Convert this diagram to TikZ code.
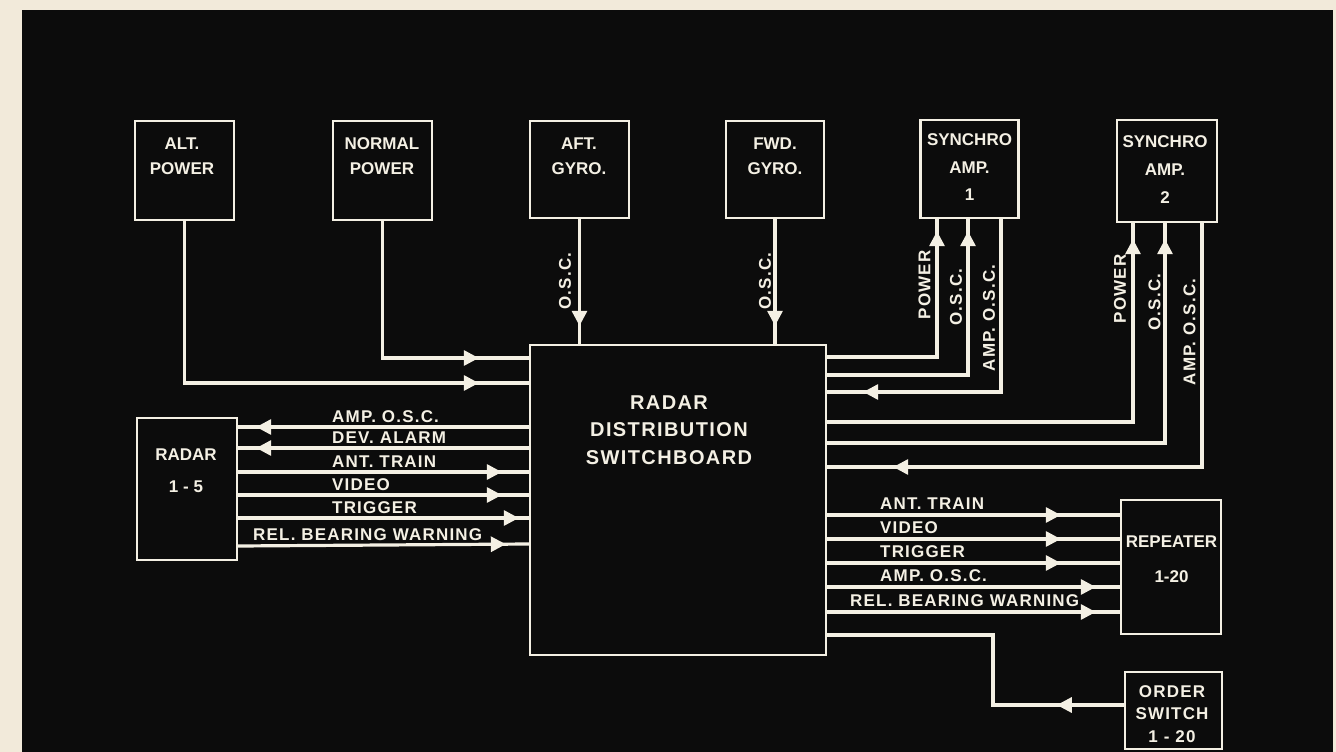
\documentclass[tikz,border=0pt]{standalone}
\usepackage{fontspec}
\setmainfont{Liberation Sans}
\newfontfamily\lblfont{Liberation Sans}[LetterSpace=7]
\usetikzlibrary{arrows.meta,decorations.markings}
\definecolor{paper}{HTML}{F2EADA}
\definecolor{board}{HTML}{0C0C0C}
\definecolor{chalk}{HTML}{F4F0E4}
\begin{document}
\begin{tikzpicture}[x=1pt,y=-1pt,
  blk/.style={draw=chalk,line width=2.4pt,inner sep=0pt},
  btxt/.style={text=chalk,font=\fontsize{17}{#1}\selectfont\bfseries,align=center,inner sep=0pt},
  btxt/.default=24.5,
  ltxt/.style={text=chalk,font=\fontsize{17}{20}\selectfont\lblfont\bfseries,inner sep=0pt},
  wirex/.style={chalk,line width=3.2pt,line join=miter},
  tipat/.style={postaction={decorate,decoration={markings,mark=at position #1 with {\arrow{Triangle[length=15pt,width=15pt]}}}}}]
\useasboundingbox (0,0) rectangle (1336,752);
\fill[paper] (0,0) rectangle (1336,752);
\fill[board] (22,10) rectangle (1333,752);

% boxes
\node[blk,minimum width=99pt,minimum height=99pt] (alt) at (184.5,170.5) {};
\node[btxt] (altT) at (182,156) {ALT.\\POWER};
\node[blk,minimum width=99pt,minimum height=99pt] (normal) at (382.5,170.5) {};
\node[btxt] (normalT) at (382,156) {NORMAL\\POWER};
\node[blk,minimum width=99pt,minimum height=97pt] (aft) at (579.5,169.5) {};
\node[btxt] (aftT) at (579,156) {AFT.\\GYRO.};
\node[blk,minimum width=98pt,minimum height=97pt] (fwd) at (775,169.5) {};
\node[btxt] (fwdT) at (775,156) {FWD.\\GYRO.};
\node[blk,minimum width=98pt,minimum height=98pt] (syn1) at (969.5,169) {};
\node[btxt=27.5] (syn1T) at (969.5,167.5) {SYNCHRO\\AMP.\\1};
\node[blk,minimum width=100pt,minimum height=102pt] (syn2) at (1167,171) {};
\node[btxt=28] (syn2T) at (1165,170) {SYNCHRO\\AMP.\\2};
\node[blk,minimum width=296pt,minimum height=310pt] (sw) at (678,500) {};
\node[btxt,font=\fontsize{20}{27.5}\selectfont\lblfont\bfseries] (swT) at (669,430) {RADAR\\DISTRIBUTION\\SWITCHBOARD};
\node[blk,minimum width=100pt,minimum height=142pt] (radar) at (187,489) {};
\node[btxt=32] (radarT) at (186,471) {RADAR\\1 - 5};
\node[blk,minimum width=100pt,minimum height=134pt] (rep) at (1171,567) {};
\node[btxt=35] (repT) at (1171.5,559.5) {REPEATER\\1-20};
\node[blk,minimum width=97pt,minimum height=77pt] (order) at (1173.5,710.5) {};
\node[btxt,font=\fontsize{17}{22.5}\selectfont\lblfont\bfseries] (orderT) at (1172,714) {ORDER\\SWITCH\\1 - 20};

% power and gyro inputs
\draw[wirex,tipat=-50pt] (alt.south) |- (sw.west |- 0,383);
\draw[wirex,tipat=-50pt] (normal.south) |- (sw.west |- 0,358);
\draw[wirex,tipat=-18pt] (aft.south) -- (aft.south |- sw.north);
\draw[wirex,tipat=-18pt] (fwd.south) -- (fwd.south |- sw.north);
\node[ltxt,rotate=90] (aftL) at (565,281) {O.S.C.};
\node[ltxt,rotate=90] (fwdL) at (765,281) {O.S.C.};

% synchro amp 1
\draw[wirex,tipat=-12pt] (sw.east |- 0,357) -| ([xshift=-32.5pt]syn1.south);
\draw[wirex,tipat=-12pt] (sw.east |- 0,375) -| ([xshift=-1.5pt]syn1.south);
\draw[wirex,tipat=-36pt] ([xshift=31.5pt]syn1.south) |- (sw.east |- 0,392);
\node[ltxt,rotate=90] (s1a) at (924.5,285) {POWER};
\node[ltxt,rotate=90] (s1b) at (956,297) {O.S.C.};
\node[ltxt,rotate=90] (s1c) at (989,318) {AMP. O.S.C.};

% synchro amp 2
\draw[wirex,tipat=-16pt] (sw.east |- 0,422) -| ([xshift=-34pt]syn2.south);
\draw[wirex,tipat=-16pt] (sw.east |- 0,443) -| ([xshift=-2pt]syn2.south);
\draw[wirex,tipat=-66pt] ([xshift=35pt]syn2.south) |- (sw.east |- 0,467);
\node[ltxt,rotate=90] (s2a) at (1120,289) {POWER};
\node[ltxt,rotate=90] (s2b) at (1154.5,302) {O.S.C.};
\node[ltxt,rotate=90] (s2c) at (1189.5,332) {AMP. O.S.C.};

% radar 1-5
\draw[wirex,tipat=-18pt] (sw.west |- 0,427) -- (radar.east |- 0,427);
\draw[wirex,tipat=-18pt] (sw.west |- 0,448) -- (radar.east |- 0,448);
\draw[wirex,tipat=-27pt] (radar.east |- 0,472) -- (sw.west |- 0,472);
\draw[wirex,tipat=-27pt] (radar.east |- 0,495) -- (sw.west |- 0,495);
\draw[wirex,tipat=-10pt] (radar.east |- 0,518) -- (sw.west |- 0,518);
\draw[wirex,tipat=-23pt] (radar.east |- 0,546) -- (sw.west |- 0,544);
\node[ltxt,anchor=base west] (r1) at (332,422) {AMP. O.S.C.};
\node[ltxt,anchor=base west] (r2) at (332,443) {DEV. ALARM};
\node[ltxt,anchor=base west] (r3) at (332,467) {ANT. TRAIN};
\node[ltxt,anchor=base west] (r4) at (332,490) {VIDEO};
\node[ltxt,anchor=base west] (r5) at (332,513) {TRIGGER};
\node[ltxt,anchor=base west] (r6) at (253,540) {REL. BEARING WARNING};

% repeater
\draw[wirex,tipat=-59pt] (sw.east |- 0,515) -- (rep.west |- 0,515);
\draw[wirex,tipat=-59pt] (sw.east |- 0,539) -- (rep.west |- 0,539);
\draw[wirex,tipat=-59pt] (sw.east |- 0,563) -- (rep.west |- 0,563);
\draw[wirex,tipat=-24pt] (sw.east |- 0,587) -- (rep.west |- 0,587);
\draw[wirex,tipat=-24pt] (sw.east |- 0,612) -- (rep.west |- 0,612);
\node[ltxt,anchor=base west] (p1) at (880,509) {ANT. TRAIN};
\node[ltxt,anchor=base west] (p2) at (880,533) {VIDEO};
\node[ltxt,anchor=base west] (p3) at (880,557) {TRIGGER};
\node[ltxt,anchor=base west] (p4) at (880,581) {AMP. O.S.C.};
\node[ltxt,anchor=base west] (p5) at (850,606) {REL. BEARING WARNING};

% order switch
\coordinate (bend) at (993,635);
\draw[wirex,tipat=67pt] (order.west |- 0,705) -| (bend) -- (sw.east |- bend);
\end{tikzpicture}
\end{document}
